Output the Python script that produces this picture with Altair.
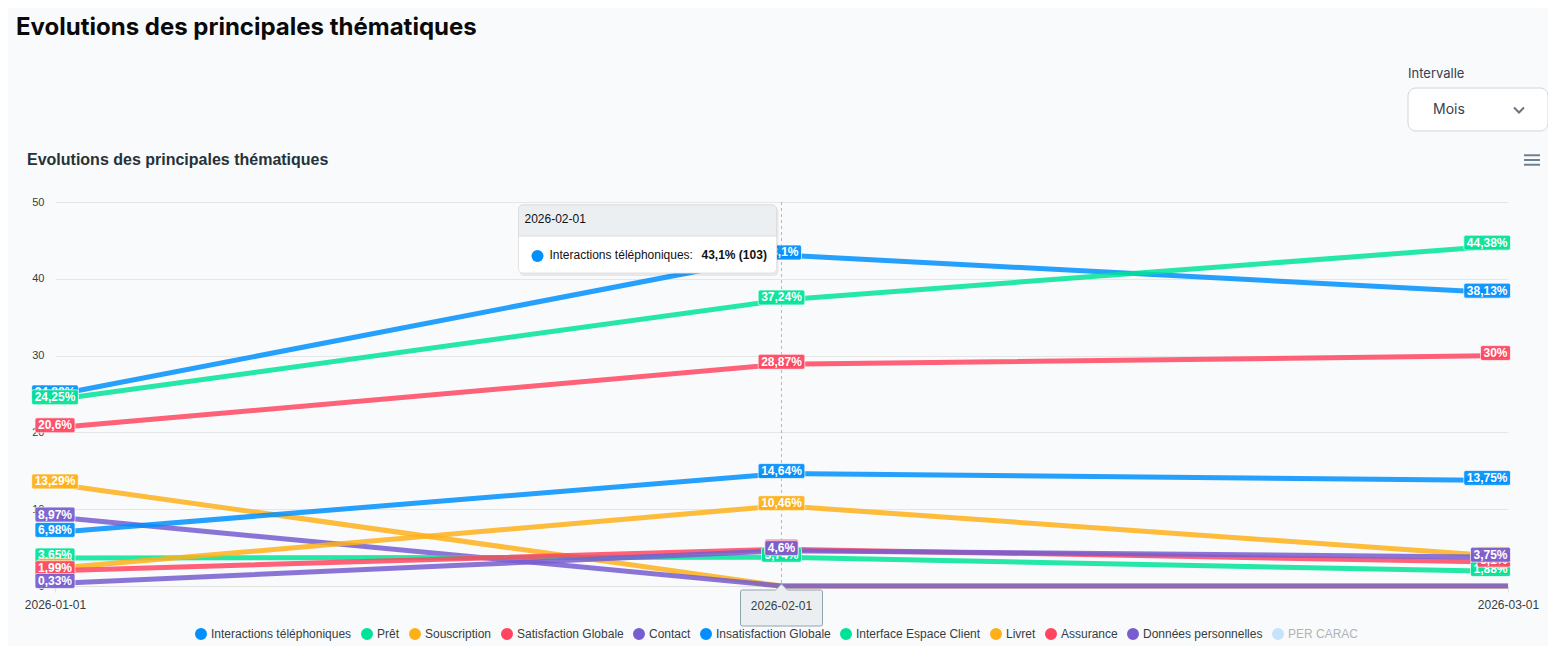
import altair as alt
import pandas as pd

# ---------------- data ----------------
dates = ["2026-01-01", "2026-02-01", "2026-03-01"]
series_names = [
    "Interactions téléphoniques", "Prêt", "Souscription", "Satisfaction Globale",
    "Contact", "Insatisfaction Globale", "Interface Espace Client", "Livret",
    "Assurance", "Données personnelles", "PER CARAC",
]
v_interactions = [24.88, 43.1, 38.13]
v_pret = [24.25, 37.24, 44.38]
v_souscription = [13.29, 0, 0]
v_satisfaction = [20.6, 28.87, 30]
v_contact = [8.97, 0, 0]
v_insatisfaction = [6.98, 14.64, 13.75]
v_interface = [3.65, 3.74, 1.88]
v_livret = [2.3, 10.46, 3.8]
v_assurance = [1.99, 4.8, 3.1]
v_donnees = [0.33, 4.6, 3.75]
series_values = [v_interactions, v_pret, v_souscription, v_satisfaction, v_contact,
                 v_insatisfaction, v_interface, v_livret, v_assurance, v_donnees]
hidden_series = ["PER CARAC"]
colors = ["#008FFB", "#00E396", "#FEB019", "#FF4560", "#775DD0",
          "#008FFB", "#00E396", "#FEB019", "#FF4560", "#775DD0", "#c6e3fb"]
y_ticks = [0, 10, 20, 30, 40, 50]
x_ticks = ["2026-01-01", "2026-03-01"]
hover_date = "2026-02-01"
hover_series = "Interactions téléphoniques"
hover_count = 103
page_title = "Evolutions des principales thématiques"
chart_title = "Evolutions des principales thématiques"
interval_label = "Intervalle"
interval_value = "Mois"

# ---------------- helpers ----------------
CW = {",": 3.34, "%": 10.67}
PAD = 6
EDGE = 2.5


def fmt(v):
    return f"{v:g}".replace(".", ",") + "%"


def rounded_path(x0, y0, x1, y1, r):
    return (f"M{x0+r},{y0} L{x1-r},{y0} Q{x1},{y0} {x1},{y0+r} L{x1},{y1-r} "
            f"Q{x1},{y1} {x1-r},{y1} L{x0+r},{y1} Q{x0},{y1} {x0},{y1-r} "
            f"L{x0},{y0+r} Q{x0},{y0} {x0+r},{y0} Z")


def text_w(text):
    return sum(CW.get(c, 6.67) for c in text)


def label_box(text, last):
    w = text_w(text) + PAD
    if last:
        return rounded_path(-w + EDGE, -10, EDGE, 5, 2)
    return rounded_path(-w / 2, -10, w / 2, 5, 2)


rows = []
for name, vals in zip(series_names, series_values):
    for j, (d, v) in enumerate(zip(dates, vals)):
        lab = fmt(v)
        last = j == len(dates) - 1
        rows.append({"series": name, "date": d, "value": v, "label": lab,
                     "last": last, "path": label_box(lab, last)})
df = pd.DataFrame(rows)

color_scale = alt.Scale(domain=series_names, range=colors)
FONT = "Liberation Sans"

x_enc = alt.X("date:O", scale=alt.Scale(type="point", domain=dates, padding=0),
              axis=alt.Axis(values=x_ticks, labelAngle=0,
                            grid=False, domainColor="#e0e0e0", tickColor="#e0e0e0", tickSize=6,
                            labelPadding=7, labelFontSize=12, labelColor="#373d3f", labelFont=FONT,
                            title=None))
y_enc = alt.Y("value:Q", scale=alt.Scale(domain=[y_ticks[0], y_ticks[-1]], nice=False),
              axis=alt.Axis(values=y_ticks, grid=True, gridColor="#e6e6e6", domain=False, ticks=False,
                            labelPadding=11, labelFontSize=11, labelColor="#373d3f", labelFont=FONT,
                            title=None))

legend = alt.Legend(
    title=None, orient="none", legendX=140, legendY=426, direction="horizontal",
    symbolType="circle", symbolSize=36, symbolStrokeWidth=6, symbolOpacity=1,
    labelFontSize=12, labelFont=FONT, labelOffset=4, columnPadding=0, padding=0, symbolLimit=0,
    labelColor={"expr": "indexof(" + str(hidden_series).replace("'", '"') + ", datum.value) >= 0 ? '#b3b3b3' : '#373d3f'"},
)

layers = []

# crosshair at hovered date
hv_idx = dates.index(hover_date)
h_val = series_values[series_names.index(hover_series)][hv_idx]
tdf = pd.DataFrame([{
    "series": hover_series, "date": hover_date, "value": h_val, "header": hover_date,
    "name": hover_series + ":", "val": f"{fmt(h_val)} ({hover_count})",
}])
layers.append(alt.Chart(tdf).mark_rule(color="#b6b6b6", strokeDash=[3, 3], strokeWidth=1).encode(x=x_enc))

# lines
for i, name in enumerate(series_names[:len(series_values)]):
    d = df[df.series == name]
    layers.append(alt.Chart(d).mark_line(strokeWidth=5, opacity=0.85).encode(
        x=x_enc, y=y_enc,
        color=alt.Color("series:N", scale=color_scale, legend=legend if i == 0 else None)))

# data labels
for name in series_names[:len(series_values)]:
    d = df[(df.series == name) & (df.value > 0)]
    layers.append(alt.Chart(d).mark_point(filled=True, opacity=0.92, stroke="white", strokeWidth=1,
                                          strokeOpacity=0.7).encode(
        x=x_enc, y=y_enc, shape=alt.Shape("path:N", scale=None), size=alt.value(4),
        color=alt.Color("series:N", scale=color_scale, legend=None)))
    d_mid = d[~d["last"]]
    d_last = d[d["last"]]
    if len(d_mid):
        layers.append(alt.Chart(d_mid).mark_text(color="white", fontWeight="bold", fontSize=12, font=FONT,
                                                 dy=-2.5, baseline="middle").encode(
            x=x_enc, y=y_enc, text="label:N"))
    if len(d_last):
        layers.append(alt.Chart(d_last).mark_text(color="white", fontWeight="bold", fontSize=12, font=FONT,
                                                  dy=-2.5, dx=EDGE - PAD / 2, align="right",
                                                  baseline="middle").encode(
            x=x_enc, y=y_enc, text="label:N"))

# tooltip box
layers.append(alt.Chart(tdf).mark_point(filled=True, color="black", opacity=0.07, size=4,
                                        shape=rounded_path(-262, -48, -3, 21, 5)).encode(x=x_enc, y=y_enc))
layers.append(alt.Chart(tdf).mark_point(filled=True, color="white", opacity=1, size=4, stroke="#e3e3e3",
                                        strokeWidth=1, shape=rounded_path(-263, -50, -5, 18, 5)).encode(x=x_enc, y=y_enc))
header_path = (f"M-258,-50 L-10,-50 Q-5,-50 -5,-45 L-5,-19 L-263,-19 L-263,-45 Q-263,-50 -258,-50 Z")
layers.append(alt.Chart(tdf).mark_point(filled=True, color="#ECEFF1", opacity=1, size=4, stroke="#dddddd",
                                        strokeWidth=1, shape=header_path).encode(x=x_enc, y=y_enc))
layers.append(alt.Chart(tdf).mark_text(align="left", baseline="middle", dx=-257, dy=-36, fontSize=12,
                                       font=FONT, color="#111111").encode(x=x_enc, y=y_enc, text="header:N"))
layers.append(alt.Chart(tdf).mark_point(filled=True, opacity=1, size=144, shape="circle",
                                        xOffset=-244, yOffset=1).encode(
    x=x_enc, y=y_enc, color=alt.Color("series:N", scale=color_scale, legend=None)))
layers.append(alt.Chart(tdf).mark_text(align="left", baseline="middle", dx=-232, dy=0, fontSize=12,
                                       font=FONT, color="#111111").encode(x=x_enc, y=y_enc, text="name:N"))
layers.append(alt.Chart(tdf).mark_text(align="left", baseline="middle", dx=-80, dy=0, fontSize=12,
                                       fontWeight="bold", font=FONT, color="#111111").encode(
    x=x_enc, y=y_enc, text="val:N"))

# x-axis tooltip
xdf = pd.DataFrame([{"date": hover_date, "value": y_ticks[0], "header": hover_date}])
layers.append(alt.Chart(xdf).mark_point(
    filled=True, color="#ECEFF1", opacity=1, size=4, stroke="#90A4AE", strokeWidth=1,
    shape="M-39,4 L-6,4 L0,-2 L6,4 L39,4 Q41,4 41,6 L41,38 Q41,40 39,40 L-39,40 Q-41,40 -41,38 L-41,6 Q-41,4 -39,4 Z"
).encode(x=x_enc, y=y_enc))
layers.append(alt.Chart(xdf).mark_text(baseline="middle", dy=20, fontSize=12, font=FONT,
                                       color="#373d3f").encode(x=x_enc, y=y_enc, text="header:N"))

# page decorations
layers.append(alt.Chart(pd.DataFrame({"t": [page_title]})).mark_text(
    align="left", baseline="middle", font="Inter", fontSize=24, fontWeight=700, color="#0a0a0a").encode(
    x=alt.value(-39), y=alt.value(-174), text="t:N"))
layers.append(alt.Chart(pd.DataFrame({"t": [chart_title]})).mark_text(
    align="left", baseline="middle", font=FONT, fontSize=16, fontWeight="bold", color="#263238").encode(
    x=alt.value(-28), y=alt.value(-42), text="t:N"))
layers.append(alt.Chart(pd.DataFrame({"t": [interval_label]})).mark_text(
    align="left", baseline="middle", font="Inter", fontSize=13, color="#374151").encode(
    x=alt.value(1353), y=alt.value(-128), text="t:N"))
layers.append(alt.Chart(pd.DataFrame({"t": [interval_value]})).mark_rect(
    fill="white", stroke="#d1d5db", strokeWidth=1, cornerRadius=8).encode(
    x=alt.value(1353), x2=alt.value(1493), y=alt.value(-114), y2=alt.value(-71)))
layers.append(alt.Chart(pd.DataFrame({"t": [interval_value]})).mark_text(
    align="left", baseline="middle", font="Inter", fontSize=14, color="#374151").encode(
    x=alt.value(1378), y=alt.value(-92), text="t:N"))
layers.append(alt.Chart(pd.DataFrame({"t": [interval_value]})).mark_point(
    shape="M-1,-0.5 L0,0.5 L1,-0.5", filled=False, size=100, color="#6b7280", strokeWidth=2,
    opacity=1).encode(x=alt.value(1464), y=alt.value(-92)))
layers.append(alt.Chart(pd.DataFrame({"t": ["menu"]})).mark_point(
    shape="M-1,-0.6 L1,-0.6 M-1,0 L1,0 M-1,0.6 L1,0.6", filled=False, size=256, color="#6e8192",
    strokeWidth=2, opacity=1).encode(x=alt.value(1477), y=alt.value(-42)))

chart = alt.layer(*layers).properties(
    width=1453, height=384,
    padding={"left": 47, "top": 194, "right": 40, "bottom": 60},
    autosize=alt.AutoSizeParams(type="none"),
    background="#f8fafc",
).configure_view(stroke=None)

chart.save("out.html", embed_options={"renderer": "svg", "actions": False})
